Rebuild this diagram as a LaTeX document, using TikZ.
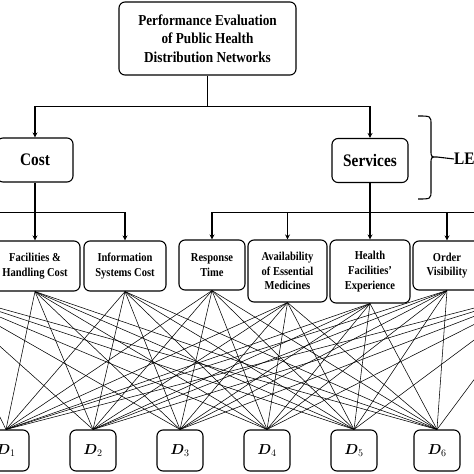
\documentclass[tikz,border=0pt]{standalone}
\usepackage{fontspec}
\setmainfont{Liberation Serif}[FakeStretch=0.87]
\usepackage{amsmath}
\usepackage{bm}
\usetikzlibrary{arrows.meta}

\tikzset{
    box/.style={draw, rounded corners=6pt, line width=1.1pt, inner sep=0pt, align=center},
    goalbox/.style={box, font=\bfseries\fontsize{15.2}{18.5}\selectfont},
    mainbox/.style={box, font=\bfseries\fontsize{17.6}{18}\selectfont, minimum width=76pt, minimum height=44pt},
    critbox/.style={box, font=\bfseries\fontsize{12.1}{14.6}\selectfont},
    altbox/.style={box, font=\fontsize{14}{16}\selectfont, minimum width=46pt, minimum height=41pt},
    tree/.style={line width=1.1pt},
    web/.style={line width=0.55pt}
}

\begin{document}
\begin{tikzpicture}[x=1pt, y=-1pt, >={Stealth[length=5pt, width=5pt]}]
    \useasboundingbox (0,0) rectangle (474,474);
    \clip (0,0) rectangle (474,474);
    % \draw[help lines, gray] (0,0) grid[step=50] (474,474);

    \node[goalbox, minimum width=177pt, minimum height=73pt] (goal) at (207.5,38.5)
        {Performance Evaluation\\of Public Health\\Distribution Networks};

    \node[mainbox] (cost) at (35,160) {Cost};
    \node[mainbox] (serv) at (370,160.5) {Services};

    \node[critbox, minimum width=90pt, minimum height=50pt] (fac) at (35,266) {Facilities \&\\Handling Cost};
    \node[critbox, minimum width=82pt, minimum height=50pt] (info) at (125,266) {Information\\Systems Cost};
    \node[critbox, minimum width=66pt, minimum height=50pt] (resp) at (212,265) {Response\\Time};
    \node[critbox, minimum width=79pt, minimum height=62pt] (avail) at (287.5,271) {Availability\\of Essential\\Medicines};
    \node[critbox, minimum width=80pt, minimum height=63pt] (health) at (370,271.5) {Health\\Facilities'\\Experience};
    \node[critbox, minimum width=68pt, minimum height=49pt] (order) at (447,265.5) {Order\\Visibility};

    % criteria cut off at the edges
    \coordinate (xLtop) at (-62,241);
    \coordinate (xLbot) at (-62,291);
    \coordinate (xRtop) at (540,241);
    \coordinate (xRbot) at (540,291);

    \foreach \i/\x in {1/6, 2/93, 3/180, 4/267, 5/354, 6/437}
        \node[altbox] (d\i) at (\x,450.5) {$\bm{D}_{\i}$};

    \draw[tree] (goal.south) -- ++(0,31) coordinate (topbar);
    \draw[tree,->] (topbar) -| (cost.north);
    \draw[tree,->] (topbar) -| (serv.north);

    \draw[tree] (cost.south) -- ++(0,30) coordinate (costbar);
    \draw[tree,->] (costbar) -| (xLtop);
    \draw[tree,->] (costbar) -| (fac.north);
    \draw[tree,->] (costbar) -| (info.north);

    \draw[tree] (serv.south) -- ++(0,29) coordinate (servbar);
    \foreach \c in {resp, avail, health, order}
        \draw[tree,->] (servbar) -| (\c.north);
    \draw[tree,->] (servbar) -| (xRtop);

    \foreach \c in {xLbot, fac.south, info.south, resp.south, avail.south, health.south, order.south, xRbot}
        \foreach \i in {1,...,6}
            \draw[web] (\c) -- (d\i.north);

    % level brace
    \coordinate (tip) at (437,157);
    \draw[line width=1.1pt] (418,116) .. controls (431,116) .. (431,125) -- (431,150)
        .. controls (431,157) .. (tip) .. controls (431,157) .. (431,164) -- (431,190)
        .. controls (431,199) .. (418,199);
    \node[anchor=west, inner sep=0pt, font=\bfseries\fontsize{17.6}{18}\selectfont] (lev) at (454,159) {LE};
    \draw[line width=1.1pt] (tip) -- (lev.west);
\end{tikzpicture}
\end{document}
